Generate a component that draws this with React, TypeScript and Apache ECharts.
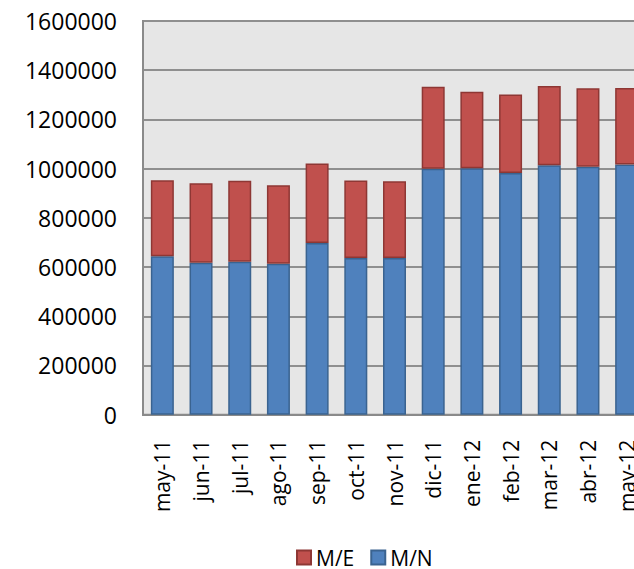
import React, { useEffect, useRef } from "react";
import * as echarts from "echarts";

const categories = ["may-11", "jun-11", "jul-11", "ago-11", "sep-11", "oct-11", "nov-11", "dic-11", "ene-12", "feb-12", "mar-12", "abr-12", "may-12"];
const mnValues = [644000, 618000, 622000, 613000, 698000, 637000, 637000, 1000000, 1002000, 982000, 1014000, 1008000, 1017000];
const meValues = [309000, 323000, 329000, 319000, 323000, 315000, 312000, 333000, 310000, 319000, 322000, 319000, 311000];
const legendNames = ["M/E", "M/N"];

export default function App() {
  const ref = useRef<HTMLDivElement>(null);
  useEffect(() => {
    if (!ref.current) return;
    const chart = echarts.init(ref.current, undefined, { renderer: "svg" });
    const font = "'Open Sans', 'Noto Sans', sans-serif";
    chart.setOption({
      animation: false,
      backgroundColor: "#ffffff",
      textStyle: { fontFamily: font },
      grid: {
        left: 143,
        top: 21,
        width: 503,
        height: 393.7,
        show: true,
        backgroundColor: "#E6E6E6",
        borderColor: "#8A8A8A",
        borderWidth: 2,
      },
      legend: {
        data: legendNames,
        left: 296,
        top: 547,
        padding: 0,
        itemWidth: 14,
        itemHeight: 14,
        itemGap: 16,
        textStyle: { fontFamily: font, fontSize: 21, color: "#000", lineHeight: 20 },
        icon: "rect",
      },
      xAxis: {
        type: "category",
        data: categories,
        axisLine: { show: true, lineStyle: { color: "#8A8A8A", width: 2 } },
        axisTick: { show: false },
        axisLabel: { rotate: 90, margin: 25, fontSize: 21, color: "#000", fontFamily: font },
      },
      yAxis: {
        type: "value",
        min: 0,
        max: 1600000,
        interval: 200000,
        axisLine: { show: true, lineStyle: { color: "#8A8A8A", width: 2 } },
        axisTick: { show: false },
        axisLabel: { margin: 26, fontSize: 23, color: "#000", fontFamily: font, formatter: (v: number) => String(v) },
        splitLine: { lineStyle: { color: "#8F8F8F", width: 2 } },
      },
      series: [
        {
          name: "M/N",
          type: "bar",
          stack: "total",
          data: mnValues,
          barWidth: 23,
          itemStyle: { color: "#4F81BD", borderColor: "#3A6390", borderWidth: 1.5 },
        },
        {
          name: "M/E",
          type: "bar",
          stack: "total",
          data: meValues,
          barWidth: 23,
          itemStyle: { color: "#C0504D", borderColor: "#8E3734", borderWidth: 1.5 },
        },
      ],
    });
    return () => chart.dispose();
  }, []);
  return (
    <div style={{ position: "fixed", left: 0, top: 0, width: 634, height: 569, overflow: "hidden", background: "#fff" }}>
      <div ref={ref} style={{ width: 680, height: 569 }} />
    </div>
  );
}
